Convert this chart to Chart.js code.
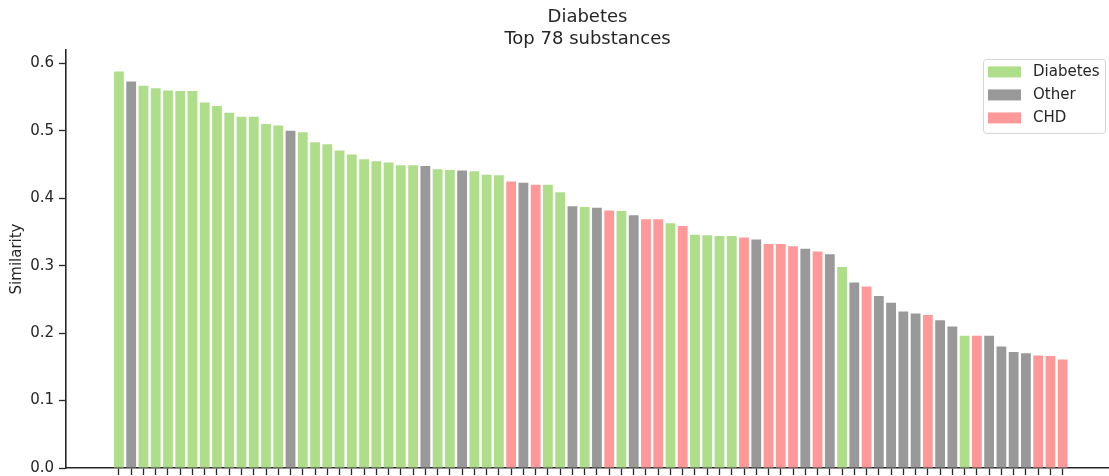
<!DOCTYPE html>
<html>
<head>
<meta charset="utf-8">
<title>Diabetes – Top 78 substances</title>
<script src="https://cdn.jsdelivr.net/npm/chart.js@4/dist/chart.umd.min.js"></script>
<style>
  html, body { margin: 0; padding: 0; background: #ffffff; }
  #wrap { width: 1109px; height: 476px; position: relative; }
</style>
</head>
<body>
<div id="wrap"><canvas id="chart" width="1109" height="476"></canvas></div>
<script>
// Chart title (two lines)
const titleLines = ['Diabetes', 'Top 78 substances'];

// Similarity score of each substance, ranked from highest to lowest
const similarity = [
  0.588, 0.573, 0.567, 0.563, 0.560, 0.559, 0.559, 0.542, 0.537, 0.527,
  0.521, 0.521, 0.510, 0.508, 0.500, 0.498, 0.483, 0.480, 0.471, 0.465,
  0.458, 0.455, 0.453, 0.449, 0.449, 0.448, 0.443, 0.442, 0.441, 0.440,
  0.435, 0.434, 0.425, 0.423, 0.420, 0.420, 0.409, 0.388, 0.387, 0.386,
  0.382, 0.381, 0.375, 0.369, 0.369, 0.363, 0.359, 0.346, 0.345, 0.344,
  0.344, 0.342, 0.339, 0.332, 0.332, 0.329, 0.325, 0.321, 0.317, 0.298,
  0.275, 0.269, 0.255, 0.245, 0.232, 0.229, 0.227, 0.219, 0.210, 0.196,
  0.196, 0.196, 0.180, 0.172, 0.170, 0.167, 0.166, 0.161
];

// Disease group of each substance (same order as similarity)
const groups = [
  'Diabetes', 'Other', 'Diabetes', 'Diabetes', 'Diabetes', 'Diabetes', 'Diabetes', 'Diabetes', 'Diabetes', 'Diabetes',
  'Diabetes', 'Diabetes', 'Diabetes', 'Diabetes', 'Other', 'Diabetes', 'Diabetes', 'Diabetes', 'Diabetes', 'Diabetes',
  'Diabetes', 'Diabetes', 'Diabetes', 'Diabetes', 'Diabetes', 'Other', 'Diabetes', 'Diabetes', 'Other', 'Diabetes',
  'Diabetes', 'Diabetes', 'CHD', 'Other', 'CHD', 'Diabetes', 'Diabetes', 'Other', 'Diabetes', 'Other',
  'CHD', 'Diabetes', 'Other', 'CHD', 'CHD', 'Diabetes', 'CHD', 'Diabetes', 'Diabetes', 'Diabetes',
  'Diabetes', 'CHD', 'Other', 'CHD', 'CHD', 'CHD', 'Other', 'CHD', 'Other', 'Diabetes',
  'Other', 'CHD', 'Other', 'Other', 'Other', 'Other', 'CHD', 'Other', 'Other', 'Diabetes',
  'CHD', 'Other', 'Other', 'Other', 'Other', 'CHD', 'CHD', 'CHD'
];

// Legend entries and their colours
const groupNames = ['Diabetes', 'Other', 'CHD'];
const groupColors = ['#afde8a', '#999999', '#ff9999'];

// Y-axis tick values
const yTicks = [0.0, 0.1, 0.2, 0.3, 0.4, 0.5, 0.6];

const ink = '#262626';
const family = "'DejaVu Sans', 'Liberation Sans', sans-serif";
Chart.defaults.font.family = family;

const colorOf = g => groupColors[groupNames.indexOf(g)];

// Drop the extra room Chart.js keeps for overhanging tick labels
const noOverhang = s => {
  s.paddingLeft = 0; s.paddingRight = 0; s.paddingTop = 0; s.paddingBottom = 0;
};

// Framed legend drawn inside the top-right corner of the plot area
const boxLegend = {
  id: 'boxLegend',
  afterDraw(chart) {
    const { ctx, chartArea } = chart;
    const w = 122, h = 74;
    const x0 = chartArea.right - w - 4;
    const y0 = chartArea.top + 9;
    ctx.save();
    ctx.beginPath();
    ctx.roundRect(x0 + 0.5, y0 + 0.5, w, h, 3);
    ctx.fillStyle = 'rgba(255,255,255,0.85)';
    ctx.fill();
    ctx.lineWidth = 1;
    ctx.strokeStyle = '#d4d4d4';
    ctx.stroke();
    ctx.font = '15px ' + family;
    ctx.textBaseline = 'middle';
    ctx.textAlign = 'left';
    groupNames.forEach((name, i) => {
      const cy = y0 + 13 + i * 23;
      ctx.fillStyle = groupColors[i];
      ctx.fillRect(x0 + 5, cy - 5.5, 33, 11);
      ctx.fillStyle = ink;
      ctx.fillText(name, x0 + 50, cy + 0.5);
    });
    ctx.restore();
  }
};

new Chart(document.getElementById('chart'), {
  type: 'bar',
  data: {
    datasets: [{
      label: 'Similarity',
      data: similarity.map((v, i) => ({ x: i, y: v })),
      backgroundColor: groups.map(colorOf),
      borderWidth: 0,
      barPercentage: 0.8,
      categoryPercentage: 1.0
    }]
  },
  options: {
    responsive: false,
    animation: false,
    layout: { padding: 0 },
    plugins: {
      legend: { display: false },
      tooltip: { enabled: false },
      title: {
        display: true,
        text: titleLines,
        fullSize: false,
        color: ink,
        font: { family, size: 18, weight: 'normal', lineHeight: 1.22 },
        padding: { top: 6, bottom: 0 }
      }
    },
    scales: {
      x: {
        type: 'linear',
        offset: false,
        min: -4.32,
        max: 80.78,
        afterBuildTicks: s => { s.ticks = similarity.map((v, i) => ({ value: i })); },
        ticks: { display: false },
        grid: { offset: false, drawOnChartArea: false, drawTicks: true, tickLength: 7, tickWidth: 1.3, tickColor: ink },
        border: { display: true, color: ink, width: 1.6 },
        afterFit: s => { s.height = 8; noOverhang(s); }
      },
      y: {
        min: 0,
        max: 0.62,
        afterBuildTicks: s => { s.ticks = yTicks.map(v => ({ value: v })); },
        ticks: { color: ink, font: { family, size: 15 }, padding: 5, callback: v => Number(v).toFixed(1) },
        grid: { drawOnChartArea: false, drawTicks: true, tickLength: 7, tickWidth: 1.3, tickColor: ink },
        border: { display: true, color: ink, width: 1.6 },
        title: { display: true, text: 'Similarity', color: ink, font: { family, size: 15 }, padding: { top: 8, bottom: 0 } },
        afterFit: s => { s.width = 66; noOverhang(s); }
      }
    }
  },
  plugins: [boxLegend]
});
</script>
</body>
</html>
